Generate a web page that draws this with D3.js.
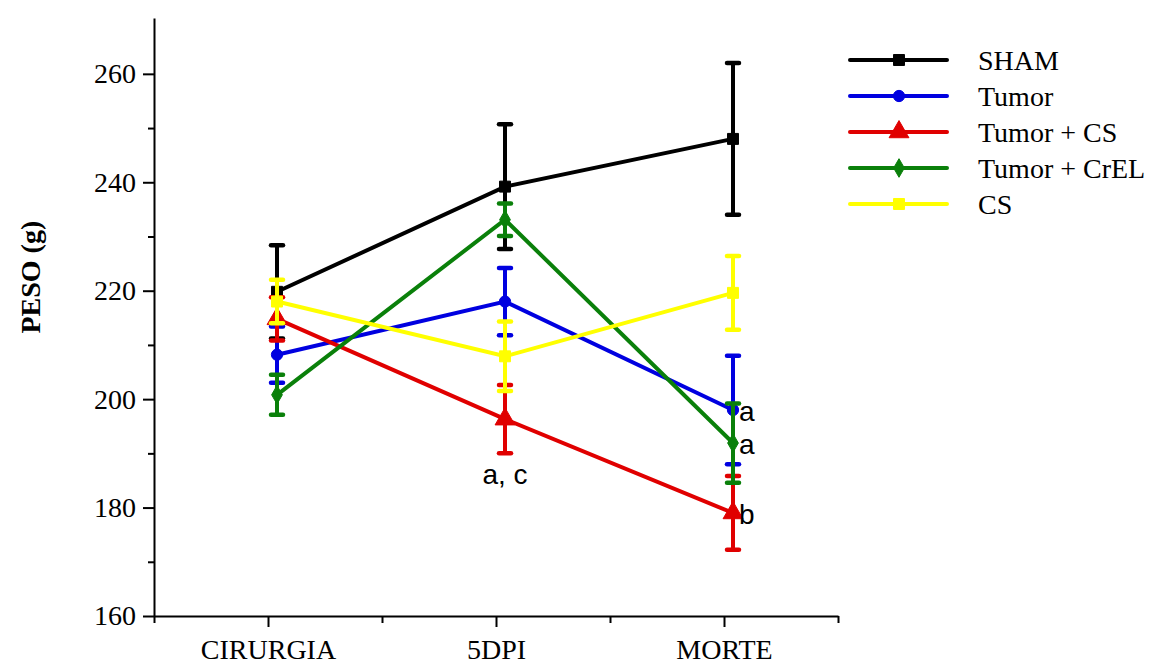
<!DOCTYPE html>
<html>
<head>
<meta charset="utf-8">
<script src="https://cdn.jsdelivr.net/npm/d3@7"></script>
<style>
  body { margin: 0; background: #fff; }
  svg { display: block; }
</style>
</head>
<body>
<div id="chart"></div>
<script>
// Datos del gráfico
const categories = ["CIRURGIA", "5DPI", "MORTE"];
const seriesNames = ["SHAM", "Tumor", "Tumor + CS", "Tumor + CrEL", "CS"];
const seriesColors = ["#000000", "#0000e0", "#e00000", "#0a800a", "#ffff00"];
const seriesMarkers = ["square", "circle", "triangle", "diamond", "square"];

const shamMean = [219.8, 239.2, 248.0];
const shamErr = [8.6, 11.5, 14.0];
const tumorMean = [208.2, 218.0, 198.0];
const tumorErr = [5.2, 6.2, 10.0];
const tumorCsMean = [214.8, 196.3, 179.0];
const tumorCsErr = [4.0, 6.3, 6.8];
const tumorCrelMean = [200.8, 233.1, 191.9];
const tumorCrelErr = [3.7, 3.0, 7.3];
const csMean = [218.0, 207.9, 219.6];
const csErr = [4.0, 6.4, 6.8];

const yTicks = [160, 180, 200, 220, 240, 260];
const yMinorTicks = [170, 190, 210, 230, 250];

const annotations = [
    { cat: "5DPI", value: 190.3, text: "a, c", where: "below" },
    { cat: "MORTE", value: 198.0, text: "a", where: "right" },
    { cat: "MORTE", value: 191.9, text: "a", where: "right" },
    { cat: "MORTE", value: 179.0, text: "b", where: "right" }
];

const means = [shamMean, tumorMean, tumorCsMean, tumorCrelMean, csMean];
const errs = [shamErr, tumorErr, tumorCsErr, tumorCrelErr, csErr];

// Dimensiones
const width = 1154, height = 668;
const margin = { left: 154, right: 316, top: 18, bottom: 52 };
const plotW = width - margin.left - margin.right;
const plotH = height - margin.top - margin.bottom;
const pointShift = 9; // los puntos están ligeramente desplazados de los ticks
const serif = "'Liberation Serif', 'Times New Roman', serif";

const svg = d3.select("#chart").append("svg")
    .attr("width", width)
    .attr("height", height);

const g = svg.append("g").attr("transform", `translate(${margin.left},${margin.top})`);

// Escalas
const x = d3.scaleLinear().domain([0.5, 3.5]).range([0, plotW]);
const xCat = c => x(categories.indexOf(c) + 1) + pointShift;
const y = d3.scaleLinear().domain([160, 270.3]).range([plotH, 0]);

// Eje Y
const yAxis = g.append("g")
    .call(d3.axisLeft(y).tickValues(yTicks).tickSize(11).tickPadding(7).tickSizeOuter(0));
yAxis.append("g")
    .call(d3.axisLeft(y).tickValues(yMinorTicks).tickSize(6).tickFormat("").tickSizeOuter(0))
    .select(".domain").remove();
yAxis.selectAll("text")
    .attr("font-family", serif)
    .attr("font-size", 28)
    .attr("fill", "#000");

// Eje X
const xAxis = g.append("g").attr("transform", `translate(0,${plotH})`)
    .call(d3.axisBottom(x).tickValues([1, 2, 3]).tickFormat(d => categories[d - 1])
        .tickSize(11).tickPadding(12).tickSizeOuter(0));
xAxis.append("g")
    .call(d3.axisBottom(x).tickValues([0.5, 1.5, 2.5, 3.5]).tickSize(7).tickFormat("").tickSizeOuter(0))
    .select(".domain").remove();
xAxis.selectAll("text")
    .attr("font-family", serif)
    .attr("font-size", 28)
    .attr("fill", "#000");

svg.selectAll(".domain, .tick line").attr("stroke", "#000").attr("stroke-width", 2);

// Título eje Y
svg.append("text")
    .attr("transform", `translate(40,${margin.top + y(222.5)}) rotate(-90)`)
    .attr("text-anchor", "middle")
    .attr("font-family", serif)
    .attr("font-weight", "bold")
    .attr("font-size", 28)
    .text("PESO (g)");

// Marcadores
function markerPath(type) {
    if (type === "square") return d3.symbol(d3.symbolSquare, 120)();
    if (type === "circle") return d3.symbol(d3.symbolCircle, 100)();
    if (type === "triangle") return d3.symbol(d3.symbolTriangle, 170)();
    return d3.symbol(d3.symbolDiamond, 100)();
}

const line = d3.line().x(d => xCat(d.cat)).y(d => y(d.v));

seriesNames.forEach((name, i) => {
    const color = seriesColors[i];
    const pts = categories.map((c, k) => ({ cat: c, v: means[i][k], e: errs[i][k] }));
    const sg = g.append("g");

    sg.append("path")
        .datum(pts)
        .attr("d", line)
        .attr("fill", "none")
        .attr("stroke", color)
        .attr("stroke-width", 4);

    // Barras de error
    const eb = sg.selectAll(".err").data(pts).enter().append("g");
    eb.append("line")
        .attr("x1", d => xCat(d.cat)).attr("x2", d => xCat(d.cat))
        .attr("y1", d => y(d.v - d.e)).attr("y2", d => y(d.v + d.e))
        .attr("stroke", color).attr("stroke-width", 4);
    [-1, 1].forEach(s => {
        eb.append("line")
            .attr("x1", d => xCat(d.cat) - 6).attr("x2", d => xCat(d.cat) + 6)
            .attr("y1", d => y(d.v + s * d.e)).attr("y2", d => y(d.v + s * d.e))
            .attr("stroke", color).attr("stroke-width", 4.5).attr("stroke-linecap", "round");
    });

    sg.selectAll(".mk").data(pts).enter().append("path")
        .attr("d", markerPath(seriesMarkers[i]))
        .attr("transform", d => `translate(${xCat(d.cat)},${y(d.v)})`)
        .attr("fill", color)
        .attr("stroke", color)
        .attr("stroke-width", 1)
        .attr("stroke-linejoin", "round");
});

// Letras de significancia
annotations.forEach(a => {
    const t = g.append("text")
        .attr("font-family", "'Liberation Sans', Arial, sans-serif")
        .attr("font-size", 28)
        .attr("fill", "#000")
        .text(a.text);
    if (a.where === "below") {
        t.attr("x", xCat(a.cat)).attr("y", y(a.value) + 32).attr("text-anchor", "middle");
    } else {
        t.attr("x", xCat(a.cat) + 6).attr("y", y(a.value) + 11).attr("text-anchor", "start");
    }
});

// Leyenda
const legend = svg.append("g").attr("transform", "translate(850,60)");
seriesNames.forEach((name, i) => {
    const row = legend.append("g").attr("transform", `translate(0,${i * 36})`);
    row.append("line")
        .attr("x1", 0).attr("x2", 97).attr("y1", 0).attr("y2", 0)
        .attr("stroke", seriesColors[i]).attr("stroke-width", 4).attr("stroke-linecap", "round");
    row.append("path")
        .attr("d", markerPath(seriesMarkers[i]))
        .attr("transform", "translate(49,0)")
        .attr("fill", seriesColors[i])
        .attr("stroke", seriesColors[i])
        .attr("stroke-linejoin", "round");
    row.append("text")
        .attr("x", 128).attr("y", 10)
        .attr("font-family", serif)
        .attr("font-size", 28)
        .text(name);
});
</script>
</body>
</html>
